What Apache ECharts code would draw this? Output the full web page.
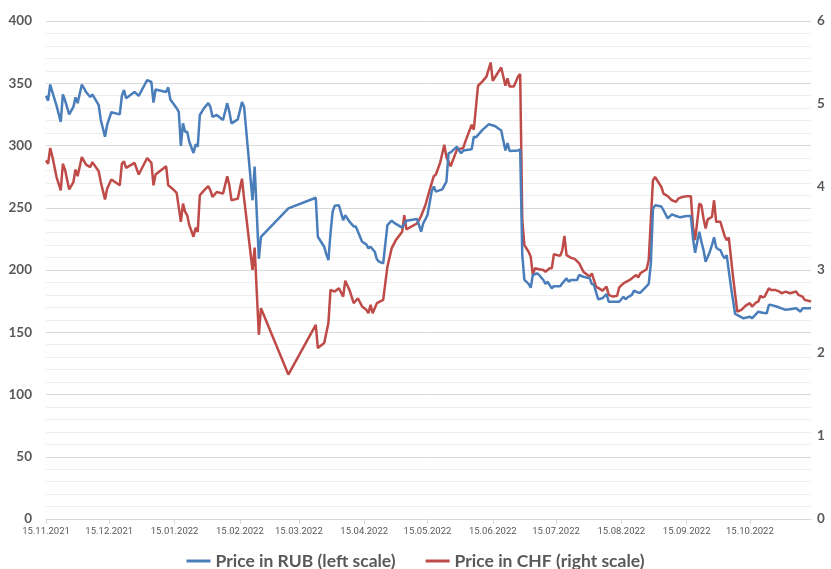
<!DOCTYPE html>
<html>
<head>
<meta charset="utf-8">
<script src="https://cdn.jsdelivr.net/npm/echarts@6/dist/echarts.min.js"></script>
<style>
html,body{margin:0;padding:0;background:#fff;}
#chart{width:831px;height:569px;}
</style>
</head>
<body>
<div id="chart"></div>
<script>
const rubDates = ['2021-11-15','2021-11-16','2021-11-17','2021-11-18','2021-11-20','2021-11-22','2021-11-23','2021-11-24','2021-11-26','2021-11-28','2021-11-29','2021-11-30','2021-12-02','2021-12-04','2021-12-06','2021-12-07','2021-12-10','2021-12-11','2021-12-13','2021-12-14','2021-12-16','2021-12-20','2021-12-21','2021-12-22','2021-12-23','2021-12-27','2021-12-29','2022-01-02','2022-01-04','2022-01-05','2022-01-06','2022-01-11','2022-01-12','2022-01-13','2022-01-16','2022-01-17','2022-01-18','2022-01-19','2022-01-20','2022-01-21','2022-01-22','2022-01-24','2022-01-25','2022-01-26','2022-01-27','2022-01-29','2022-01-31','2022-02-01','2022-02-02','2022-02-04','2022-02-07','2022-02-09','2022-02-10','2022-02-11','2022-02-14','2022-02-16','2022-02-17','2022-02-21','2022-02-22','2022-02-24','2022-02-25','2022-03-10','2022-03-23','2022-03-24','2022-03-27','2022-03-28','2022-03-29','2022-03-30','2022-03-31','2022-04-01','2022-04-03','2022-04-05','2022-04-06','2022-04-08','2022-04-10','2022-04-11','2022-04-14','2022-04-16','2022-04-17','2022-04-18','2022-04-20','2022-04-21','2022-04-22','2022-04-24','2022-04-26','2022-04-28','2022-04-30','2022-05-03','2022-05-05','2022-05-10','2022-05-11','2022-05-12','2022-05-13','2022-05-15','2022-05-17','2022-05-18','2022-05-19','2022-05-22','2022-05-24','2022-05-25','2022-05-26','2022-05-29','2022-05-30','2022-05-31','2022-06-01','2022-06-05','2022-06-06','2022-06-07','2022-06-10','2022-06-13','2022-06-16','2022-06-19','2022-06-21','2022-06-22','2022-06-23','2022-06-27','2022-06-28','2022-06-29','2022-06-30','2022-07-02','2022-07-03','2022-07-04','2022-07-06','2022-07-07','2022-07-09','2022-07-10','2022-07-11','2022-07-13','2022-07-14','2022-07-17','2022-07-18','2022-07-20','2022-07-21','2022-07-22','2022-07-25','2022-07-26','2022-07-28','2022-07-31','2022-08-01','2022-08-02','2022-08-04','2022-08-06','2022-08-08','2022-08-09','2022-08-12','2022-08-14','2022-08-16','2022-08-17','2022-08-18','2022-08-20','2022-08-21','2022-08-23','2022-08-24','2022-08-26','2022-08-28','2022-08-29','2022-08-30','2022-08-31','2022-09-03','2022-09-04','2022-09-06','2022-09-08','2022-09-10','2022-09-12','2022-09-15','2022-09-17','2022-09-18','2022-09-19','2022-09-21','2022-09-22','2022-09-23','2022-09-24','2022-09-26','2022-09-27','2022-09-28','2022-09-29','2022-09-30','2022-10-01','2022-10-02','2022-10-03','2022-10-04','2022-10-06','2022-10-08','2022-10-10','2022-10-12','2022-10-15','2022-10-16','2022-10-19','2022-10-21','2022-10-23','2022-10-24','2022-10-25','2022-10-28','2022-10-30','2022-11-01','2022-11-03','2022-11-06','2022-11-08','2022-11-09','2022-11-11','2022-11-13'];
const rubValues = [340,336,349,343,332,319,341,336.5,325,331,338.7,334,349,343,339,341,332.5,320.5,307,316.5,326.7,325,339.8,344.6,338,343,339.8,352.6,351,334.4,345,343,346.7,337,330,327,299.6,317.8,311,311,303,294,301,299,324.5,330,334,331,323,324.5,320.5,334,327,317.8,321,335,331,256,283,209,226.7,249.5,258,226.7,218.7,212.8,208,229.5,246.8,251.7,252,240,244,238.8,235,235,222.7,220.6,217.4,218.7,214.7,208.6,206.7,205.3,236,239.6,237,234,239.6,241,236,230.8,237.5,244,263,267,263,264.8,271,293.7,294.5,299,296,293.7,296,297,307,306.5,312.4,317,315.7,312,296,302,295.6,296,297,212,192,188.8,185.8,196,197.3,196,192,188.8,190.6,185.3,187,187,189.3,193.3,190.6,192,192,196,194.6,193.3,188.8,188,176.5,177.3,180.7,174.5,174.5,174.5,178.5,176.5,178,180,183.4,181.8,181.8,185.3,188.8,205,249,252,251,248,241.5,244.7,243.4,242.3,243.4,243.4,225.5,213.9,230.8,222.7,216,206.7,214.7,220,226.3,218.2,216.6,216,212,209.4,212,186.6,164.7,163,161.2,162.5,161.2,166.5,165.7,165.2,171.9,172,170.5,169.2,168,168.4,169.2,166.5,169.2,169.2,169.2];

const chfDates = ['2021-11-15','2021-11-16','2021-11-17','2021-11-18','2021-11-20','2021-11-22','2021-11-23','2021-11-24','2021-11-26','2021-11-28','2021-11-29','2021-11-30','2021-12-02','2021-12-04','2021-12-06','2021-12-07','2021-12-10','2021-12-11','2021-12-13','2021-12-14','2021-12-16','2021-12-20','2021-12-21','2021-12-22','2021-12-23','2021-12-27','2021-12-29','2022-01-02','2022-01-04','2022-01-05','2022-01-06','2022-01-11','2022-01-12','2022-01-14','2022-01-16','2022-01-18','2022-01-19','2022-01-20','2022-01-21','2022-01-22','2022-01-24','2022-01-25','2022-01-26','2022-01-27','2022-01-29','2022-01-31','2022-02-01','2022-02-02','2022-02-04','2022-02-07','2022-02-09','2022-02-10','2022-02-11','2022-02-14','2022-02-16','2022-02-17','2022-02-21','2022-02-22','2022-02-24','2022-02-25','2022-03-10','2022-03-23','2022-03-24','2022-03-27','2022-03-29','2022-03-30','2022-04-01','2022-04-03','2022-04-05','2022-04-06','2022-04-08','2022-04-10','2022-04-12','2022-04-14','2022-04-16','2022-04-17','2022-04-18','2022-04-19','2022-04-21','2022-04-24','2022-04-26','2022-04-28','2022-04-30','2022-05-03','2022-05-04','2022-05-05','2022-05-10','2022-05-12','2022-05-14','2022-05-16','2022-05-18','2022-05-19','2022-05-21','2022-05-23','2022-05-24','2022-05-26','2022-05-29','2022-06-01','2022-06-02','2022-06-05','2022-06-06','2022-06-08','2022-06-10','2022-06-12','2022-06-14','2022-06-15','2022-06-19','2022-06-21','2022-06-22','2022-06-23','2022-06-25','2022-06-27','2022-06-28','2022-06-29','2022-06-30','2022-07-02','2022-07-03','2022-07-04','2022-07-05','2022-07-07','2022-07-09','2022-07-10','2022-07-12','2022-07-13','2022-07-14','2022-07-17','2022-07-18','2022-07-19','2022-07-20','2022-07-22','2022-07-24','2022-07-26','2022-07-28','2022-07-30','2022-07-31','2022-08-01','2022-08-03','2022-08-05','2022-08-06','2022-08-08','2022-08-09','2022-08-11','2022-08-13','2022-08-14','2022-08-16','2022-08-19','2022-08-22','2022-08-23','2022-08-24','2022-08-27','2022-08-28','2022-08-29','2022-08-30','2022-08-31','2022-09-03','2022-09-04','2022-09-06','2022-09-08','2022-09-10','2022-09-11','2022-09-13','2022-09-15','2022-09-17','2022-09-18','2022-09-19','2022-09-21','2022-09-22','2022-09-23','2022-09-24','2022-09-25','2022-09-27','2022-09-28','2022-09-29','2022-10-01','2022-10-03','2022-10-04','2022-10-05','2022-10-07','2022-10-09','2022-10-11','2022-10-13','2022-10-15','2022-10-16','2022-10-18','2022-10-19','2022-10-20','2022-10-21','2022-10-22','2022-10-24','2022-10-25','2022-10-27','2022-10-29','2022-10-30','2022-11-01','2022-11-03','2022-11-06','2022-11-07','2022-11-09','2022-11-10','2022-11-13'];
const chfValues = [4.32,4.28,4.47,4.37,4.12,3.96,4.28,4.21,3.97,4.06,4.21,4.13,4.36,4.27,4.24,4.30,4.19,4.06,3.85,3.98,4.09,4.02,4.28,4.31,4.23,4.29,4.15,4.35,4.29,4.02,4.15,4.25,4.02,3.98,3.93,3.58,3.80,3.70,3.66,3.54,3.40,3.51,3.46,3.90,3.96,4.01,3.96,3.88,3.94,3.92,4.13,4.02,3.84,3.86,4.10,3.86,3.0,3.27,2.22,2.54,1.74,2.34,2.06,2.12,2.36,2.76,2.74,2.78,2.68,2.87,2.76,2.60,2.66,2.56,2.52,2.48,2.58,2.48,2.60,2.64,3.04,3.26,3.36,3.46,3.66,3.49,3.56,3.65,3.78,3.96,4.13,4.15,4.29,4.51,4.36,4.25,4.45,4.47,4.55,4.75,4.69,5.22,5.27,5.33,5.50,5.28,5.44,5.22,5.31,5.21,5.21,5.33,5.36,3.6,3.30,3.22,3.16,2.94,3.02,3.01,3.00,2.98,3.02,3.02,3.19,3.17,3.24,3.41,3.18,3.15,3.13,3.08,2.98,2.94,2.92,2.96,2.80,2.77,2.75,2.80,2.70,2.68,2.69,2.79,2.84,2.88,2.94,2.91,2.96,3.01,3.12,3.6,4.08,4.12,4.00,3.92,3.89,3.84,3.82,3.86,3.88,3.89,3.89,3.52,3.36,3.80,3.78,3.62,3.50,3.61,3.64,3.84,3.58,3.58,3.41,3.36,3.39,2.92,2.50,2.52,2.57,2.60,2.56,2.61,2.62,2.69,2.67,2.68,2.78,2.76,2.76,2.74,2.72,2.74,2.72,2.74,2.70,2.68,2.64,2.62];

const xTickDates = ['2021-11-15','2021-12-15','2022-01-15','2022-02-15','2022-03-15','2022-04-15','2022-05-15','2022-06-15','2022-07-15','2022-08-15','2022-09-15','2022-10-15'];
const xMin = '2021-11-15';
const xMax = '2022-11-13';
const seriesNames = ['Price in RUB (left scale)', 'Price in CHF (right scale)'];

const parse = s => { const p = s.split('-').map(Number); return Date.UTC(p[0], p[1] - 1, p[2]); };
const pad = n => (n < 10 ? '0' : '') + n;
const fmt = v => { const d = new Date(v); return pad(d.getUTCDate()) + '.' + pad(d.getUTCMonth() + 1) + '.' + d.getUTCFullYear(); };
const tickValues = xTickDates.map(parse);
const fontFam = 'Lato, "Open Sans", sans-serif';

const chart = echarts.init(document.getElementById('chart'), null, {renderer: 'canvas'});
chart.setOption({
  animation: false,
  backgroundColor: '#ffffff',
  grid: {left: 46, right: 20, top: 21, bottom: 50, containLabel: false},
  legend: {
    data: seriesNames,
    top: 547,
    left: 'center',
    icon: 'rect',
    itemWidth: 24,
    itemHeight: 3,
    itemGap: 30,
    textStyle: {fontFamily: fontFam, fontWeight: 'bold', fontSize: 17.5, color: '#595959'}
  },
  xAxis: {
    type: 'value',
    min: parse(xMin),
    max: parse(xMax),
    axisLine: {show: true, onZero: false, lineStyle: {color: '#d9d9d9', width: 1}},
    axisTick: {show: true, customValues: tickValues, length: 5, lineStyle: {color: '#d9d9d9'}},
    axisLabel: {
      customValues: tickValues,
      formatter: v => fmt(v),
      fontFamily: 'Roboto, sans-serif',
      fontSize: 9.5,
      color: '#595959',
      margin: 8,
      hideOverlap: false,
      showMinLabel: true,
      showMaxLabel: true
    },
    splitLine: {show: false}
  },
  yAxis: [
    {
      type: 'value', min: 0, max: 400, interval: 50,
      axisLine: {show: false}, axisTick: {show: false},
      axisLabel: {fontFamily: fontFam, fontWeight: 'bold', fontSize: 13.5, color: '#595959', margin: 14},
      splitLine: {show: true, lineStyle: {color: '#d9d9d9', width: 1}},
      minorTick: {show: false, splitNumber: 5},
      minorSplitLine: {show: true, lineStyle: {color: '#eeeeee', width: 1}}
    },
    {
      type: 'value', min: 0, max: 6, interval: 1, position: 'right',
      axisLine: {show: false}, axisTick: {show: false},
      axisLabel: {fontFamily: fontFam, fontWeight: 'bold', fontSize: 13.5, color: '#595959', margin: 6},
      splitLine: {show: false}
    }
  ],
  series: [
    {
      name: seriesNames[0], type: 'line', yAxisIndex: 0,
      data: rubDates.map((d, i) => [parse(d), rubValues[i]]),
      showSymbol: false, symbol: 'none',
      lineStyle: {color: '#4a7ebb', width: 2.5},
      itemStyle: {color: '#4a7ebb'},
      z: 3
    },
    {
      name: seriesNames[1], type: 'line', yAxisIndex: 1,
      data: chfDates.map((d, i) => [parse(d), chfValues[i]]),
      showSymbol: false, symbol: 'none',
      lineStyle: {color: '#be4b48', width: 2.5},
      itemStyle: {color: '#be4b48'},
      z: 2
    }
  ]
});
</script>
</body>
</html>
